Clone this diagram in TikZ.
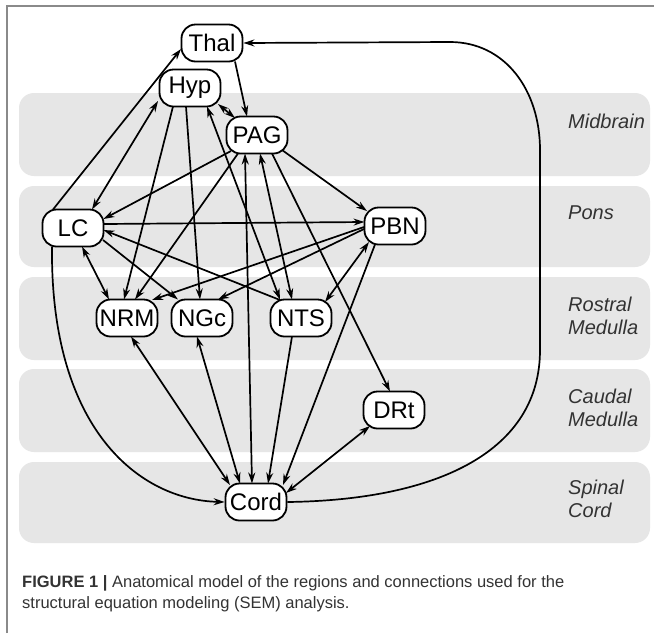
\documentclass[tikz,border=0pt]{standalone}
\usepackage{fontspec}
\setmainfont{Liberation Sans}
\usetikzlibrary{arrows.meta,calc}
\definecolor{bandgray}{HTML}{E6E6E6}
\definecolor{framegray}{HTML}{8A8A8A}
\definecolor{captxt}{HTML}{333333}
\begin{document}
\begin{tikzpicture}[x=1pt,y=-1pt,
  region/.style={draw=black, line width=1.8pt, fill=white, rounded corners=14pt,
    minimum width=61pt, minimum height=37pt, inner sep=2pt,
    font=\fontsize{24}{28}\selectfont},
  link/.style={line width=1.7pt, -{Stealth[length=11pt,width=7pt]}},
  twoway/.style={line width=1.7pt, {Stealth[length=11pt,width=7pt]}-{Stealth[length=11pt,width=7pt]}},
  bandbox/.style={fill=bandgray, rounded corners=15pt},
  lvl/.style={anchor=west, align=left, font=\fontsize{20}{23}\selectfont\itshape, text=captxt, inner sep=0pt},
  captext/.style={anchor=base west, inner sep=0pt, text=captxt, font=\fontsize{16.5}{21}\selectfont}]
\useasboundingbox (0,0) rectangle (654,633);
\fill[white] (0,0) rectangle (654,633);
\draw[framegray, line width=1.2pt] (7,633) -- (7,6) -- (654,6);
% bands
\fill[bandbox] (19,93) rectangle (650,176);
\fill[bandbox] (19,186) rectangle (650,267);
\fill[bandbox] (19,277) rectangle (650,360);
\fill[bandbox] (19,369) rectangle (650,452);
\fill[bandbox] (19,462) rectangle (650,543);
% band labels
\node[lvl] (lmid) at (568,121) {Midbrain};
\node[lvl] (lpons) at (568,213) {Pons};
\node[lvl] (lrm) at (568,316) {Rostral\\Medulla};
\node[lvl] (lcm) at (568,408) {Caudal\\Medulla};
\node[lvl] (lsc) at (568,499) {Spinal\\Cord};
% nodes
\node[region] (Thal) at (212,43) {Thal};
\node[region] (Hyp) at (190,88) {Hyp};
\node[region] (PAG) at (257,135) {PAG};
\node[region] (LC) at (73,228) {LC};
\node[region] (PBN) at (395,226) {PBN};
\node[region] (NRM) at (127,318) {NRM};
\node[region] (NGc) at (202,318) {NGc};
\node[region] (NTS) at (301,318) {NTS};
\node[region] (DRt) at (394,410) {DRt};
\node[region] (Cord) at (256,502) {Cord};
% connectors
\draw[link] (Cord.east) .. controls (440,500) and (540,450) .. (540,350) -- (540,150)
  .. controls (540,90) and (505,42) .. (450,42) -- (Thal.east);
\draw[link] ($(Thal)+(23,18.5)$) -- ($(PAG)+(-10,-18.5)$);
\draw[link] ($(LC)+(-20,-18.5)$) -- ($(Thal)+(-31,6)$);
\draw[twoway] ($(Hyp)+(-32,13)$) -- ($(LC)+(19,-18.5)$);
\draw[twoway] ($(Hyp)+(28,16)$) -- ($(PAG)+(-22,-17)$);
\draw[link] ($(Hyp)+(-17,18.5)$) -- ($(NRM)+(-3,-18.5)$);
\draw[link] ($(Hyp)+(-4,18.5)$) -- ($(NGc)+(-2,-18.5)$);
\draw[twoway] ($(Hyp)+(17,18.5)$) -- ($(NTS)+(-21,-18.5)$);
\draw[twoway] ($(LC)+(9,18.5)$) -- ($(NRM)+(-18,-18.5)$);
\draw[link] ($(LC)+(30,12)$) -- ($(NGc)+(-24,-18.5)$);
\draw[link] ($(LC)+(30.5,-4)$) -- ($(PBN)+(-30.5,-4)$);
\draw[link] ($(LC)+(-21,18.5)$) .. controls (50,430) and (140,500) .. (Cord.west);
\draw[link] ($(PAG)+(-26,16)$) -- ($(LC)+(30.5,-9)$);
\draw[link] ($(PAG)+(-19,18.5)$) -- ($(NRM)+(8,-18.5)$);
\draw[twoway] ($(PAG)+(-12,18.5)$) -- ($(Cord)+(-4,-18.5)$);
\draw[twoway] ($(PAG)+(3,18.5)$) -- ($(NTS)+(-9,-18.5)$);
\draw[link] ($(PAG)+(15,18.5)$) -- ($(DRt)+(-4,-18.5)$);
\draw[link] ($(PAG)+(25,15)$) -- ($(PBN)+(-28,-15)$);
\draw[link] ($(NTS)+(-21,-18)$) -- ($(LC)+(30.5,2)$);
\draw[link] ($(PBN)+(-31,1)$) -- ($(NRM)+(25,-18)$);
\draw[link] ($(PBN)+(-31,3)$) -- ($(NGc)+(16,-18.5)$);
\draw[twoway] ($(PBN)+(-26,16)$) -- ($(NTS)+(24,-16)$);
\draw[link] ($(PBN)+(-20,18.5)$) -- ($(Cord)+(27,-17)$);
\draw[twoway] ($(NRM)+(4,18.5)$) -- ($(Cord)+(-26,-17)$);
\draw[twoway] ($(NGc)+(-5,18.5)$) -- ($(Cord)+(-16,-18.5)$);
\draw[link] ($(NTS)+(-9,18.5)$) -- ($(Cord)+(12,-18.5)$);
\draw[twoway] ($(DRt)+(-24,16)$) -- ($(Cord)+(30,-9)$);
% caption
\node[captext] (cap1) at (22,587) {\textbf{FIGURE 1 |} Anatomical model of the regions and connections used for the};
\node[captext] (cap2) at (22,608) {structural equation modeling (SEM) analysis.};
\end{tikzpicture}
\end{document}
